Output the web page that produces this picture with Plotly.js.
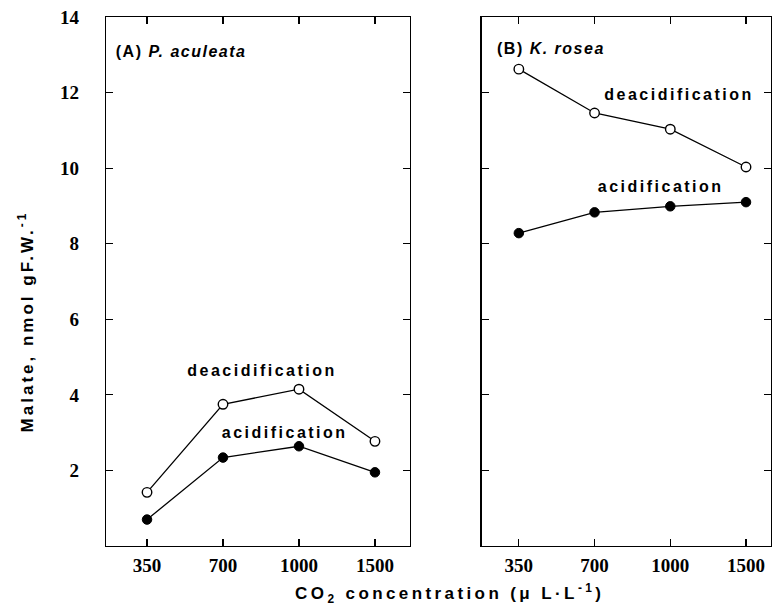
<!DOCTYPE html>
<html><head><meta charset="utf-8">
<script src="https://cdn.plot.ly/plotly-3.0.1.min.js"></script>
<style>
body{margin:0;background:#fff}
.annotation[data-index="0"] text{letter-spacing:1.5px}
.annotation[data-index="1"] text{letter-spacing:1.5px}
.annotation[data-index="2"] text, .annotation[data-index="3"] text,
.annotation[data-index="4"] text, .annotation[data-index="5"] text{letter-spacing:2.5px}
.annotation[data-index="6"] text{letter-spacing:3.4px}
.annotation[data-index="7"] text{letter-spacing:3px}
</style>
</head><body><div id="chart" style="width:773px;height:612px"></div>
<script>
const co2Levels = ['350', '700', '1000', '1500'];
const aculeataDeacid = [1.42, 3.75, 4.15, 2.77];
const aculeataAcid = [0.70, 2.34, 2.64, 1.95];
const roseaDeacid = [12.62, 11.46, 11.03, 10.03];
const roseaAcid = [8.28, 8.83, 8.99, 9.10];
const yTickVals = [2, 4, 6, 8, 10, 12, 14];
const yTickText = ['2', '4', '6', '8', '10', '12', '14'];

const line = {color: '#000', width: 1.3};
const openMarker = {symbol: 'circle', size: 9.5, color: '#fff', line: {color: '#000', width: 1.4}};
const filledMarker = {symbol: 'circle', size: 9.5, color: '#000', line: {color: '#000', width: 1}};

const traces = [
  {x: co2Levels, y: aculeataDeacid, xaxis: 'x', yaxis: 'y', mode: 'lines+markers', line, marker: openMarker},
  {x: co2Levels, y: aculeataAcid, xaxis: 'x', yaxis: 'y', mode: 'lines+markers', line, marker: filledMarker},
  {x: co2Levels, y: roseaDeacid, xaxis: 'x2', yaxis: 'y2', mode: 'lines+markers', line, marker: openMarker},
  {x: co2Levels, y: roseaAcid, xaxis: 'x2', yaxis: 'y2', mode: 'lines+markers', line, marker: filledMarker}
];

const tickFont = {family: 'Liberation Serif, Times New Roman, serif', size: 19, color: '#000', weight: 'bold'};
const axBase = {
  showline: true, linecolor: '#000', linewidth: 1.3, mirror: 'ticks',
  ticks: 'inside', ticklen: 7, tickwidth: 1.2, tickcolor: '#000',
  showgrid: false, zeroline: false, tickfont: tickFont, fixedrange: true
};
const sans = 'Liberation Sans, Arial, sans-serif';
const annFont = {family: sans, size: 16, color: '#000'};
const titleFont = {family: sans, size: 17, color: '#000'};
const ann = (o) => Object.assign({xref: 'paper', yref: 'paper', xanchor: 'center', yanchor: 'middle', showarrow: false, font: annFont}, o);

const layout = {
  width: 773, height: 612,
  margin: {l: 106, r: 2, t: 17, b: 66},
  paper_bgcolor: '#fff', plot_bgcolor: '#fff',
  showlegend: false,
  xaxis: Object.assign({}, axBase, {domain: [0, 0.457], type: 'category', range: [-0.54, 3.46], anchor: 'y', ticklabelstandoff: 2}),
  yaxis: Object.assign({}, axBase, {range: [0, 14], tickvals: yTickVals, ticktext: yTickText, anchor: 'x', ticklabelstandoff: 22}),
  xaxis2: Object.assign({}, axBase, {domain: [0.565, 1], type: 'category', range: [-0.49, 3.33], anchor: 'y2', ticklabelstandoff: 2}),
  yaxis2: Object.assign({}, axBase, {range: [0, 14], tickvals: yTickVals, showticklabels: false, anchor: 'x2'}),
  annotations: [
    ann({x: 0.029, y: 0.934, xanchor: 'left', text: '<b>(A) <i>P. aculeata</i></b>', font: {family: sans, size: 16, color: '#000'}}),
    ann({x: 0.599, y: 0.941, xanchor: 'left', text: '<b>(B) <i>K. rosea</i></b>', font: {family: sans, size: 16, color: '#000'}}),
    ann({x: 0.2346, y: 0.331, text: '<b>deacidification</b>'}),
    ann({x: 0.2677, y: 0.2155, text: '<b>acidification</b>'}),
    ann({x: 0.8617, y: 0.8544, text: '<b>deacidification</b>'}),
    ann({x: 0.8331, y: 0.6805, text: '<b>acidification</b>'}),
    ann({x: 0.517, y: -0.0907, text: '<b>CO<sub>2</sub> concentration (μ L·L<sup>-1</sup>)</b>', font: titleFont}),
    ann({x: -0.12, y: 0.425, textangle: -90, text: '<b>Malate, nmol gF.W.<sup>-1</sup></b>', font: titleFont})
  ]
};

Plotly.newPlot('chart', traces, layout, {displayModeBar: false, staticPlot: true});
</script>
</body></html>
